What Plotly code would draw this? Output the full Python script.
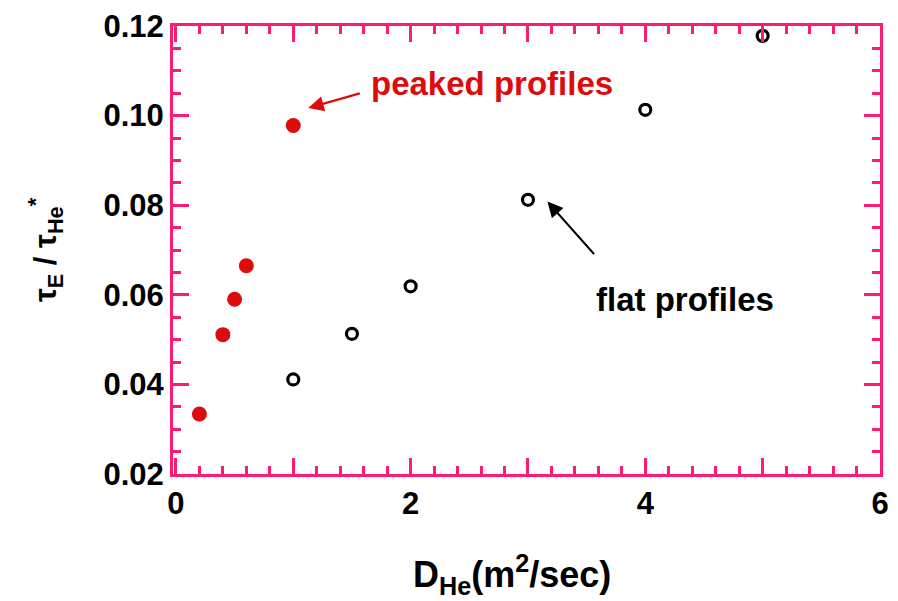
import plotly.graph_objects as go

# Peaked density profiles (filled red)
peaked_d = [0.2, 0.4, 0.5, 0.6, 1.0]
peaked_ratio = [0.0334, 0.0511, 0.0590, 0.0665, 0.0978]

# Flat density profiles (open black)
flat_d = [1.0, 1.5, 2.0, 3.0, 4.0, 5.0]
flat_ratio = [0.0411, 0.0513, 0.0619, 0.0812, 0.1013, 0.1178]

x_tickvals = [0, 1, 2, 3, 4, 5, 6]
x_ticktext = ["0", "", "2", "", "4", "", "6"]
y_tickvals = [0.02, 0.04, 0.06, 0.08, 0.10, 0.12]
y_ticktext = ["0.02", "0.04", "0.06", "0.08", "0.10", "0.12"]

X_RANGE = [-0.025, 6]
Y_RANGE = [0.02, 0.12]

PINK = "#FF1A72"
RED = "#DD0C0C"
FONT = "Liberation Sans"


def bold(labels):
    return [f"<b>{t}</b>" if t else "" for t in labels]


fig = go.Figure()
fig.add_trace(go.Scatter(
    x=peaked_d, y=peaked_ratio, mode="markers",
    marker=dict(symbol="circle", size=15, color=RED),
    showlegend=False, cliponaxis=False,
))
fig.add_trace(go.Scatter(
    x=flat_d, y=flat_ratio, mode="markers",
    marker=dict(symbol="circle-open", size=11, color="black", line=dict(width=3.2, color="black")),
    showlegend=False, cliponaxis=False,
))

label_font = dict(family=FONT, size=31, color="black")

# Main axes: frame line and tick labels only
frame = dict(
    showline=True, linecolor=PINK, linewidth=3, mirror=True, ticks="",
    showgrid=False, zeroline=False, tickfont=label_font,
)
# Overlay axes: long (major) and short (minor) inward tick marks on all four sides
tick_axis = dict(
    showline=False, ticks="inside", tickwidth=3, tickcolor=PINK,
    mirror="allticks", showgrid=False, zeroline=False, showticklabels=False,
)

fig.update_layout(
    xaxis=dict(
        range=X_RANGE, tickmode="array", tickvals=x_tickvals, ticktext=bold(x_ticktext),
        **frame,
    ),
    yaxis=dict(
        range=Y_RANGE, tickmode="array", tickvals=y_tickvals, ticktext=bold(y_ticktext),
        title=dict(text="<b>τ<sub>E</sub> / τ<sub>He</sub><sup>*</sup></b>", standoff=38,
                   font=label_font),
        **frame,
    ),
    xaxis2=dict(range=X_RANGE, overlaying="x", anchor="y", side="bottom",
                tickmode="array", tickvals=x_tickvals, ticklen=16, **tick_axis),
    yaxis2=dict(range=Y_RANGE, overlaying="y", anchor="x", side="left",
                tickmode="array", tickvals=y_tickvals, ticklen=16, **tick_axis),
    xaxis3=dict(range=X_RANGE, overlaying="x", anchor="y", side="bottom",
                tickmode="linear", tick0=0, dtick=0.2, ticklen=8, **tick_axis),
    yaxis3=dict(range=Y_RANGE, overlaying="y", anchor="x", side="left",
                tickmode="linear", tick0=0.02, dtick=0.005, ticklen=8, **tick_axis),
)
# Empty traces so the overlay axes are drawn
fig.add_trace(go.Scatter(x=[None], y=[None], xaxis="x2", yaxis="y2",
                         showlegend=False, hoverinfo="skip"))
fig.add_trace(go.Scatter(x=[None], y=[None], xaxis="x3", yaxis="y3",
                         showlegend=False, hoverinfo="skip"))

# X axis title
fig.add_annotation(xref="paper", yref="paper", x=0.48, y=-0.225, yanchor="middle",
                   text="<b>D<sub>He</sub>(m<sup>2</sup>/sec)</b>", showarrow=False,
                   font=dict(family=FONT, size=36, color="black"))

# Labels and pointer arrows
fig.add_annotation(x=2.69, y=0.1072, text="<b>peaked profiles</b>", showarrow=False,
                   font=dict(family=FONT, size=33, color=RED))
fig.add_annotation(x=1.128, y=0.1017, text="", showarrow=True, ax=53, ay=-15,
                   arrowhead=2, arrowsize=1.4, arrowwidth=2.2, arrowcolor=RED)
fig.add_annotation(x=4.34, y=0.059, text="<b>flat profiles</b>", showarrow=False,
                   font=dict(family=FONT, size=33, color="black"))
fig.add_annotation(x=3.166, y=0.0808, text="", showarrow=True, ax=48, ay=54,
                   arrowhead=2, arrowsize=1.4, arrowwidth=2.2, arrowcolor="black")

fig.update_layout(
    width=898, height=601,
    margin=dict(l=173, r=9, t=20, b=127),
    plot_bgcolor="white", paper_bgcolor="white",
)

fig.write_html("out.html")
